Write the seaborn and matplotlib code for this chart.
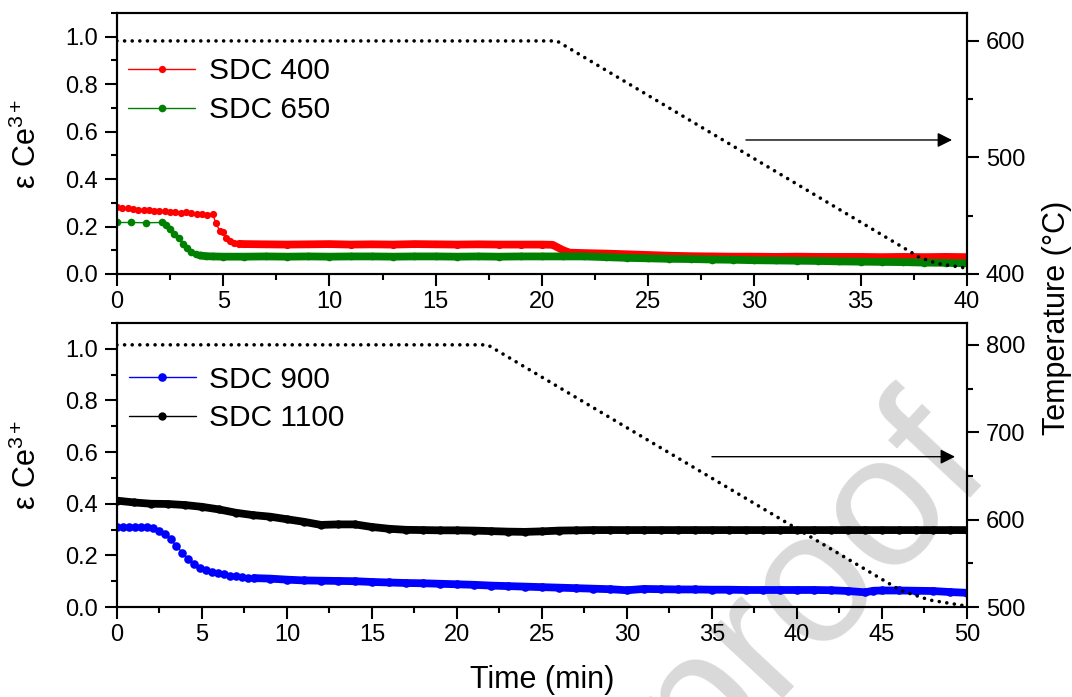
import numpy as np
import pandas as pd
import matplotlib
matplotlib.use("Agg")
import matplotlib.pyplot as plt
import seaborn as sns
from matplotlib.ticker import MultipleLocator, FormatStrFormatter

sns.set_style("ticks")
plt.rcParams["font.family"] = ["Liberation Sans", "DejaVu Sans"]
plt.rcParams["mathtext.fontset"] = "custom"
plt.rcParams["mathtext.rm"] = "Liberation Sans"
plt.rcParams["mathtext.it"] = "Liberation Sans:italic"
for key in ("text.color", "axes.labelcolor", "xtick.color", "ytick.color",
            "axes.edgecolor"):
    plt.rcParams[key] = "black"

# ---------------- top panel: SDC 400 / SDC 650 ----------------
t_400 = [0.0, 0.25, 0.5, 0.75, 1.0, 1.25, 1.5, 1.75, 2.0, 2.25, 2.5, 2.75, 3.0, 3.25,
         3.5, 3.75, 4.0, 4.25, 4.5, 4.66, 4.85, 5.0, 5.15, 5.3, 5.5, 5.75, 6, 7, 8, 9, 10,
         11, 12, 13, 14, 15, 16, 17, 18, 19, 20, 20.5, 21.0, 21.3, 22, 23, 24, 25, 26,
         27, 28, 29, 30, 31, 32, 33, 34, 35, 36, 37, 38, 39, 40]
e_400 = [0.281, 0.279, 0.276, 0.272, 0.270, 0.271, 0.270, 0.267, 0.266, 0.264, 0.262,
         0.262, 0.258, 0.262, 0.257, 0.254, 0.252, 0.250, 0.252, 0.214, 0.180, 0.175,
         0.150, 0.138, 0.130, 0.127, 0.126, 0.125, 0.124, 0.125, 0.126, 0.124, 0.125,
         0.124, 0.126, 0.125, 0.124, 0.125, 0.124, 0.124, 0.124, 0.123, 0.100, 0.090,
         0.088, 0.086, 0.083, 0.080, 0.077, 0.075, 0.074, 0.073, 0.073, 0.072, 0.073,
         0.072, 0.072, 0.072, 0.071, 0.072, 0.071, 0.072, 0.071]

t_650 = [0.0, 0.64, 1.36, 2.1, 2.3, 2.5, 2.7, 2.9, 3.1, 3.3, 3.5, 3.7, 3.9, 4.2, 4.5, 5,
         6, 7, 8, 9, 10, 11, 12, 13, 14, 15, 16, 17, 18, 19, 20, 21, 22, 23, 24, 25, 26,
         27, 28, 29, 30, 31, 32, 33, 34, 35, 36, 37, 38, 39, 40]
e_650 = [0.217, 0.217, 0.216, 0.217, 0.205, 0.188, 0.170, 0.150, 0.126, 0.108, 0.092,
         0.083, 0.078, 0.075, 0.074, 0.073, 0.073, 0.074, 0.073, 0.074, 0.073, 0.074,
         0.074, 0.073, 0.074, 0.074, 0.073, 0.074, 0.073, 0.074, 0.074, 0.074, 0.074,
         0.071, 0.068, 0.066, 0.064, 0.063, 0.061, 0.060, 0.058, 0.057, 0.056, 0.055,
         0.053, 0.052, 0.051, 0.050, 0.048, 0.047, 0.045]

# furnace temperature programme (knots), top run
temp_top_t = [0.0, 20.7, 37.8, 38.6, 40.0]
temp_top_v = [600, 600, 414, 409, 405]

# ---------------- bottom panel: SDC 900 / SDC 1100 ----------------
t_900 = [0.0, 0.35, 0.7, 1.05, 1.4, 1.75, 2.1, 2.45, 2.8, 3.15, 3.5, 3.85, 4.2, 4.55,
         4.9, 5.25, 5.6, 5.95, 6.3, 6.65, 7.0, 7.35, 7.7, 8.05, 9, 10, 11, 12, 13, 14,
         15, 16, 17, 18, 19, 20, 21, 22, 23, 24, 25, 26, 27, 28, 29, 30, 31, 32, 33, 34,
         35, 36, 37, 38, 39, 40, 41, 42, 43, 44, 44.5, 45, 46, 47, 48, 49, 50]
e_900 = [0.311, 0.311, 0.310, 0.310, 0.309, 0.308, 0.305, 0.296, 0.283, 0.263, 0.236,
         0.210, 0.186, 0.165, 0.150, 0.142, 0.136, 0.131, 0.126, 0.122, 0.119, 0.116,
         0.114, 0.112, 0.110, 0.106, 0.103, 0.102, 0.101, 0.100, 0.097, 0.095, 0.093,
         0.092, 0.090, 0.088, 0.086, 0.083, 0.081, 0.079, 0.077, 0.075, 0.073, 0.071,
         0.069, 0.065, 0.070, 0.069, 0.068, 0.068, 0.067, 0.067, 0.066, 0.066, 0.066,
         0.066, 0.066, 0.065, 0.062, 0.057, 0.063, 0.064, 0.064, 0.063, 0.062, 0.058,
         0.055]

t_1100 = list(range(0, 51))
e_1100 = [0.412, 0.405, 0.400, 0.399, 0.395, 0.388, 0.378, 0.365, 0.356, 0.350, 0.340,
          0.330, 0.318, 0.320, 0.320, 0.310, 0.303, 0.299, 0.298, 0.297, 0.297, 0.296,
          0.294, 0.292, 0.291, 0.293, 0.296, 0.297, 0.298, 0.298, 0.298, 0.298, 0.298,
          0.298, 0.298, 0.298, 0.298, 0.298, 0.298, 0.298, 0.298, 0.298, 0.298, 0.298,
          0.298, 0.298, 0.298, 0.298, 0.298, 0.298, 0.298]

temp_bot_t = [0.0, 21.8, 46.1, 47.8, 50.0]
temp_bot_v = [800, 800, 519, 508, 501]

FS_TICK = 17
FS_LABEL = 22
FS_LEG = 21.5


def draw_series(ax, t, e, color, label, band_from, ms):
    df = pd.DataFrame({"t": t, "e": e})
    sns.lineplot(data=df, x="t", y="e", ax=ax, color=color, lw=1.0, marker="o",
                 ms=ms, mew=0, label=label, errorbar=None, sort=False)
    dense = df[df["t"] >= band_from]
    sns.lineplot(data=dense, x="t", y="e", ax=ax, color=color, lw=5.6,
                 solid_capstyle="round", solid_joinstyle="round",
                 errorbar=None, sort=False, label="_band")


def draw_temperature(ax2, t, v):
    df = pd.DataFrame({"t": t, "T": v})
    sns.lineplot(data=df, x="t", y="T", ax=ax2, color="black", lw=2.6,
                 linestyle=(0, (0.01, 2.1)), dash_capstyle="round",
                 errorbar=None, sort=False)


def style_axes(ax, ax2, xmax, tmin, tmax):
    ax.set_xlim(0, xmax)
    ax.set_ylim(0, 1.1)
    ax2.set_ylim(tmin, tmax)
    ax.xaxis.set_major_locator(MultipleLocator(5))
    ax.xaxis.set_minor_locator(MultipleLocator(2.5))
    ax.yaxis.set_major_locator(MultipleLocator(0.2))
    ax.yaxis.set_minor_locator(MultipleLocator(0.1))
    ax.yaxis.set_major_formatter(FormatStrFormatter("%.1f"))
    ax2.yaxis.set_major_locator(MultipleLocator(100))
    ax2.yaxis.set_minor_locator(MultipleLocator(50))
    for a in (ax, ax2):
        a.tick_params(which="major", direction="out", length=8.5, width=1.5,
                      labelsize=FS_TICK, color="black", labelcolor="black")
        a.tick_params(which="minor", direction="out", length=4.5, width=1.5,
                      color="black")
        for s in a.spines.values():
            s.set_visible(True)
            s.set_linewidth(1.5)
            s.set_color("black")
    ax.tick_params(axis="x", which="both", top=False, pad=4)
    ax.tick_params(axis="y", which="both", right=False, pad=5)
    ax2.tick_params(axis="y", which="both", left=False, pad=5)
    ax2.tick_params(axis="x", which="both", top=False, bottom=False)
    ax.set_xlabel("")
    ax2.set_xlabel("")
    ax2.set_ylabel("")
    ax.set_ylabel("ε Ce$^{3+}$", fontsize=FS_LABEL)
    ax.yaxis.set_label_coords(-0.087, 0.5)
    ax.patch.set_visible(False)


fig = plt.figure(figsize=(10.72, 6.97), dpi=100)
fig.patch.set_facecolor("white")

ax_top = fig.add_axes([0.1091, 0.6069, 0.7929, 0.3745])
ax_bot = fig.add_axes([0.1091, 0.1291, 0.7929, 0.4075])

# top panel
draw_series(ax_top, t_400, e_400, "#ff0000", "SDC 400", 5.75, 5.2)
draw_series(ax_top, t_650, e_650, "#008000", "SDC 650", 3.9, 5.5)
ax_top2 = ax_top.twinx()
draw_temperature(ax_top2, temp_top_t, temp_top_v)
style_axes(ax_top, ax_top2, 40, 400, 624)
ax_top2.annotate("", xy=(39.3, 515), xytext=(29.6, 515),
                 arrowprops=dict(arrowstyle="-|>", color="black", lw=1.0,
                                 mutation_scale=22, shrinkA=0, shrinkB=0))

# bottom panel
draw_series(ax_bot, t_900, e_900, "#0000ff", "SDC 900", 8.05, 6.2)
draw_series(ax_bot, t_1100, e_1100, "black", "SDC 1100", 0.0, 6.0)
ax_bot2 = ax_bot.twinx()
draw_temperature(ax_bot2, temp_bot_t, temp_bot_v)
style_axes(ax_bot, ax_bot2, 50, 500, 825)
ax_bot2.annotate("", xy=(49.3, 672), xytext=(35.0, 672),
                 arrowprops=dict(arrowstyle="-|>", color="black", lw=1.0,
                                 mutation_scale=22, shrinkA=0, shrinkB=0))

ax_bot.set_xlabel("Time (min)", fontsize=FS_LABEL)
ax_bot.xaxis.set_label_coords(0.5, -0.205)

for ax, anchor in ((ax_top, (0.013, 0.83)), (ax_bot, (0.014, 0.85))):
    handles, labels = ax.get_legend_handles_labels()
    keep = [(h, l) for h, l in zip(handles, labels) if l.startswith("SDC")]
    ax.legend([h for h, _ in keep], [l for _, l in keep], loc="upper left",
              bbox_to_anchor=anchor, frameon=False, fontsize=FS_LEG,
              handlelength=2.25, handletextpad=0.45, labelspacing=0.36,
              borderpad=0, borderaxespad=0)

fig.text(1057 / 1072, 1 - 318 / 697, "Temperature (°C)", rotation=90,
         ha="center", va="center", fontsize=FS_LABEL)

fig.text(0.756, 0.16, "proof", rotation=47, ha="center", va="center",
         fontsize=135, color="#d9d9d9", zorder=-1)

fig.savefig("out.png", dpi=100, facecolor="white")
